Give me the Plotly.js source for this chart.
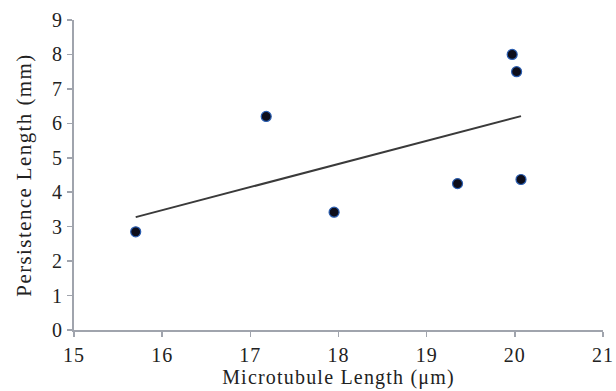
<!DOCTYPE html>
<html>
<head>
<meta charset="utf-8">
<script src="https://cdn.plot.ly/plotly-3.0.1.min.js"></script>
<style>
html,body{margin:0;padding:0;background:#fff;}
#chart{width:616px;height:391px;}
#chart .xtick text, #chart .ytick text {letter-spacing:1px;}
#chart .xtitle {letter-spacing:1.2px;}
#chart .ytitle {letter-spacing:1.4px;}
</style>
</head>
<body>
<div id="chart"></div>
<script>
var microtubuleLength = [15.7, 17.18, 17.95, 19.35, 19.97, 20.02, 20.07];
var persistenceLength = [2.85, 6.2, 3.42, 4.25, 8.0, 7.5, 4.37];
var xTicks = [15, 16, 17, 18, 19, 20, 21];
var yTicks = [0, 1, 2, 3, 4, 5, 6, 7, 8, 9];

// least-squares trend line computed from the data
var n = microtubuleLength.length;
var mx = microtubuleLength.reduce(function(a,b){return a+b;},0)/n;
var my = persistenceLength.reduce(function(a,b){return a+b;},0)/n;
var sxy = 0, sxx = 0;
for (var i=0;i<n;i++){ sxy += (microtubuleLength[i]-mx)*(persistenceLength[i]-my); sxx += Math.pow(microtubuleLength[i]-mx,2); }
var slope = sxy/sxx, intercept = my - slope*mx;
var xMin = Math.min.apply(null, microtubuleLength), xMax = Math.max.apply(null, microtubuleLength);

var serif = 'Liberation Serif, Times New Roman, serif';
var data = [
  {x:[xMin,xMax], y:[intercept+slope*xMin, intercept+slope*xMax], mode:'lines', type:'scatter',
   line:{color:'#3a3a3a', width:2}, hoverinfo:'skip'},
  {x:microtubuleLength, y:persistenceLength, mode:'markers', type:'scatter',
   marker:{size:10, color:'#0d0d1a', line:{color:'#2a5db0', width:1.2}}}
];
var axisCommon = {showgrid:false, zeroline:false, showline:true, linecolor:'#a0a4ad', linewidth:2,
  ticks:'outside', ticklen:5, tickwidth:1.5, tickcolor:'#a0a4ad', tickfont:{family:serif, size:20, color:'#222'}};
var layout = {
  width:616, height:391, margin:{l:74, r:13, t:20, b:61},
  paper_bgcolor:'#fff', plot_bgcolor:'#fff', showlegend:false,
  xaxis:Object.assign({}, axisCommon, {range:[15,21], tickvals:xTicks, ticktext:xTicks.map(String), ticklabelstandoff:1,
    title:{text:'Microtubule Length (\u03bcm)', font:{family:serif, size:20, color:'#222'}, standoff:4}}),
  yaxis:Object.assign({}, axisCommon, {range:[0,9], tickvals:yTicks, ticktext:yTicks.map(String),
    title:{text:'Persistence Length (mm)', font:{family:serif, size:21, color:'#222'}, standoff:16}})
};
Plotly.newPlot('chart', data, layout, {displayModeBar:false, staticPlot:true});
</script>
</body>
</html>
